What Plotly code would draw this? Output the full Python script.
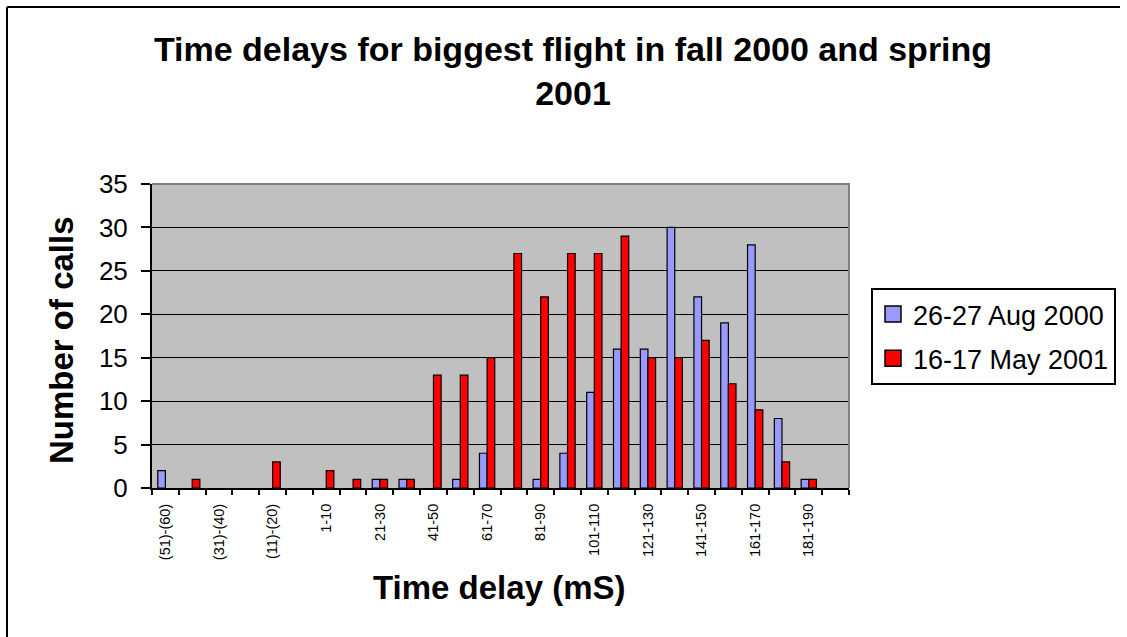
import plotly.graph_objects as go

# Delay bins (ms); negative bins written in brackets
categories = [
    "(51)-(60)", "(41)-(50)", "(31)-(40)", "(21)-(30)", "(11)-(20)", "(1)-(10)",
    "1-10", "11-20", "21-30", "31-40", "41-50", "51-60", "61-70", "71-80",
    "81-90", "91-100", "101-110", "111-120", "121-130", "131-140", "141-150",
    "151-160", "161-170", "171-180", "181-190", "191-200",
]

aug_2000 = [2, 0, 0, 0, 0, 0, 0, 0, 1, 1, 0, 1, 4, 0, 1, 4, 11, 16, 16, 30, 22, 19, 28, 8, 1, 0]
may_2001 = [0, 1, 0, 0, 3, 0, 2, 1, 1, 1, 13, 13, 15, 27, 22, 27, 27, 29, 15, 15, 17, 12, 9, 3, 1, 0]

series_names = ["26-27 Aug 2000", "16-17 May 2001"]
series_colors = ["#9999FF", "#FF0000"]
y_ticks = [0, 5, 10, 15, 20, 25, 30, 35]

xpos = list(range(len(categories)))
FONT = "Arial, Liberation Sans, sans-serif"

# Pixel layout of the plotting area
W, H = 1127, 637
L, R, T, B = 152, 278, 184, 149
PW, PH = W - L - R, H - T - B


def px_x(px):
    return (px - L) / PW


def px_y(py):
    return (H - B - py) / PH


fig = go.Figure()
for name, vals, col in zip(series_names, [aug_2000, may_2001], series_colors):
    # empty bins are left blank instead of drawing a flat outline
    fig.add_trace(go.Bar(
        x=xpos, y=[v if v else None for v in vals], name=name,
        showlegend=False,
        marker=dict(color=col, line=dict(color="black", width=1.2)),
    ))
    # legend entry with a larger square swatch
    fig.add_trace(go.Scatter(
        x=[None], y=[None], mode="markers", name=name, legendgroup=name,
        marker=dict(symbol="square", size=16, color=col,
                    line=dict(color="black", width=1.5)),
    ))

fig.update_layout(
    width=W, height=H,
    margin=dict(l=L, r=R, t=T, b=B, autoexpand=False),
    paper_bgcolor="white",
    plot_bgcolor="#C0C0C0",
    barmode="group",
    bargap=0.43,
    bargroupgap=0,
    font=dict(family=FONT, color="black"),
    title=dict(
        text="<b>Time delays for biggest flight in fall 2000 and spring<br>2001</b>",
        x=573 / W, xanchor="center", xref="container",
        y=1 - 61 / H, yanchor="top", yref="container",
        font=dict(size=34, family=FONT, color="black"),
    ),
    showlegend=True,
    legend=dict(
        x=px_x(871), y=px_y(288), xanchor="left", yanchor="top",
        bordercolor="black", borderwidth=2, bgcolor="white",
        font=dict(size=27, family=FONT, color="black"),
        traceorder="grouped", tracegroupgap=6, itemsizing="trace",
    ),
)

fig.update_xaxes(
    range=[-0.5, len(categories) - 0.5],
    tickmode="array", tickvals=xpos[::2], ticktext=categories[::2],
    tickangle=-90, tickfont=dict(size=14.5, family=FONT, color="black"),
    ticks="", ticklabelstandoff=8,
    minor=dict(
        tickmode="array", tickvals=[i - 0.5 for i in range(len(categories) + 1)],
        ticks="outside", ticklen=5, tickwidth=2, tickcolor="black",
    ),
    showline=True, linecolor="black", linewidth=2,
    showgrid=False, zeroline=False,
)

fig.update_yaxes(
    range=[0, 35], tickmode="array", tickvals=y_ticks,
    tickfont=dict(size=26, family=FONT, color="black"),
    ticks="outside", ticklen=9, tickwidth=2, tickcolor="black",
    ticklabelstandoff=8,
    showline=True, linecolor="black", linewidth=2,
    showgrid=True, gridcolor="black", gridwidth=1,
    zeroline=False,
)

# Axis titles
fig.add_annotation(
    text="<b>Time delay (mS)</b>", xref="paper", yref="paper",
    x=px_x(499), y=px_y(587), xanchor="center", yanchor="middle",
    showarrow=False, font=dict(size=33, family=FONT, color="black"),
)
fig.add_annotation(
    text="<b>Number of calls</b>", xref="paper", yref="paper",
    x=px_x(61), y=px_y(340), xanchor="center", yanchor="middle",
    textangle=-90, showarrow=False, font=dict(size=33, family=FONT, color="black"),
)

# Grey top and right edges of the plotting area
fig.add_shape(
    type="path", xref="paper", yref="paper",
    path="M 0,1 L 1,1 L 1,0", line=dict(color="#808080", width=2), layer="above",
)
# Outer chart frame: left and top edges as separate lines
frame = dict(color="black", width=2)
fig.add_shape(type="line", xref="paper", yref="paper",
              x0=px_x(7), x1=px_x(7), y0=px_y(637), y1=px_y(7),
              line=frame, layer="above")
fig.add_shape(type="line", xref="paper", yref="paper",
              x0=px_x(7), x1=px_x(1120), y0=px_y(7), y1=px_y(7),
              line=frame, layer="above")

fig.write_html("out.html")
